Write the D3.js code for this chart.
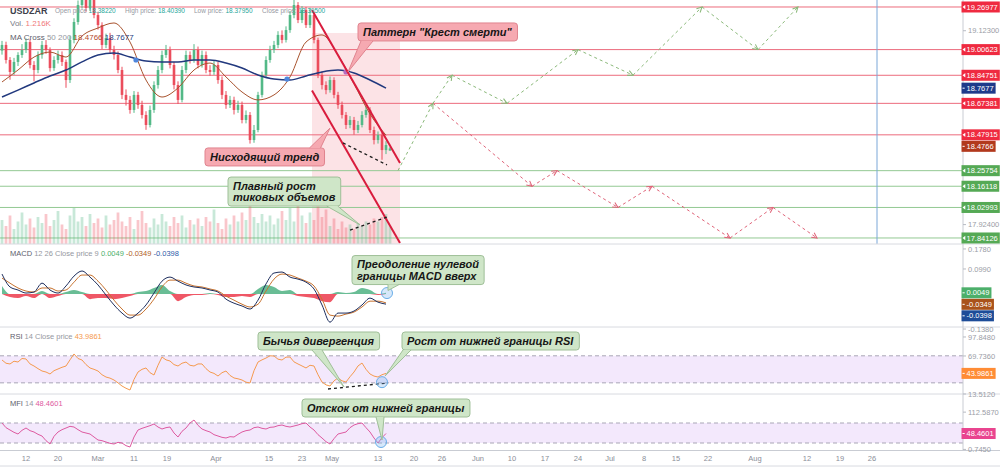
<!DOCTYPE html>
<html>
<head>
<meta charset="utf-8">
<title>USDZAR</title>
<script src="https://cdn.jsdelivr.net/npm/d3@7"></script>
<style>
  html, body { margin: 0; padding: 0; background: #fff; }
  svg { display: block; font-family: "Liberation Sans", Arial, sans-serif; }
</style>
</head>
<body>
<div id="chart"></div>
<script>
// Candles (one per bar)
const opens = [19.000, 19.035, 18.942, 18.868, 18.930, 18.973, 19.004, 19.053, 18.911, 18.880,
  18.973, 19.035, 19.004, 18.892, 18.942, 18.973, 18.930, 18.818, 19.066, 19.177,
  19.282, 19.344, 19.264, 19.375, 19.220, 19.158, 19.035, 19.078, 19.004, 18.973,
  18.880, 18.726, 18.695, 18.633, 18.726, 18.664, 18.602, 18.540, 18.633, 18.787,
  18.880, 18.973, 19.004, 18.911, 18.787, 18.695, 18.880, 18.973, 18.942, 19.004,
  18.911, 18.973, 18.880, 18.868, 18.911, 18.818, 18.726, 18.664, 18.695, 18.633,
  18.664, 18.571, 18.602, 18.447, 18.509, 18.726, 18.849, 18.942, 19.004, 19.035,
  19.097, 19.066, 19.127, 19.220, 19.282, 19.189, 19.251, 19.158, 19.220, 19.066,
  18.849, 18.787, 18.756, 18.818, 18.726, 18.664, 18.602, 18.540, 18.571, 18.509,
  18.540, 18.602, 18.633, 18.509, 18.447, 18.478, 18.385, 18.3822]
const highs = [19.060, 19.055, 18.960, 18.955, 18.990, 19.040, 19.075, 19.070, 18.935, 18.995,
  19.060, 19.065, 19.020, 18.965, 19.000, 18.995, 18.945, 19.090, 19.200, 19.310,
  19.380, 19.370, 19.400, 19.390, 19.240, 19.175, 19.105, 19.110, 19.030, 18.995,
  18.900, 18.760, 18.720, 18.750, 18.745, 18.690, 18.625, 18.660, 18.810, 18.905,
  19.000, 19.035, 19.025, 18.930, 18.810, 18.905, 19.000, 18.995, 19.040, 19.025,
  19.000, 18.995, 18.910, 18.935, 18.930, 18.840, 18.750, 18.720, 18.715, 18.690,
  18.685, 18.630, 18.620, 18.540, 18.745, 18.870, 18.965, 19.030, 19.060, 19.120,
  19.125, 19.150, 19.245, 19.320, 19.300, 19.275, 19.270, 19.265, 19.240, 19.080,
  18.870, 18.810, 18.840, 18.835, 18.745, 18.685, 18.620, 18.595, 18.590, 18.565,
  18.625, 18.660, 18.650, 18.530, 18.500, 18.495, 18.440, 18.4039]
const lows = [18.975, 18.920, 18.820, 18.850, 18.905, 18.955, 18.985, 18.890, 18.810, 18.860,
  18.950, 18.980, 18.870, 18.875, 18.920, 18.905, 18.770, 18.800, 19.045, 19.160,
  19.260, 19.240, 19.245, 19.200, 19.130, 19.010, 19.015, 18.985, 18.945, 18.860,
  18.700, 18.660, 18.610, 18.615, 18.640, 18.580, 18.510, 18.525, 18.615, 18.765,
  18.860, 18.955, 18.890, 18.760, 18.670, 18.680, 18.860, 18.920, 18.925, 18.890,
  18.895, 18.860, 18.845, 18.850, 18.795, 18.700, 18.640, 18.645, 18.605, 18.615,
  18.550, 18.550, 18.425, 18.430, 18.495, 18.710, 18.830, 18.925, 18.985, 19.015,
  19.045, 19.050, 19.110, 19.200, 19.170, 19.170, 19.140, 19.140, 19.045, 18.830,
  18.760, 18.730, 18.740, 18.705, 18.640, 18.580, 18.515, 18.520, 18.480, 18.490,
  18.525, 18.585, 18.490, 18.420, 18.425, 18.325, 18.360, 18.3795]
const closes = [19.035, 18.942, 18.868, 18.930, 18.973, 19.004, 19.053, 18.911, 18.880, 18.973,
  19.035, 19.004, 18.892, 18.942, 18.973, 18.930, 18.818, 19.066, 19.177, 19.282,
  19.344, 19.264, 19.375, 19.220, 19.158, 19.035, 19.078, 19.004, 18.973, 18.880,
  18.726, 18.695, 18.633, 18.726, 18.664, 18.602, 18.540, 18.633, 18.787, 18.880,
  18.973, 19.004, 18.911, 18.787, 18.695, 18.880, 18.973, 18.942, 19.004, 18.911,
  18.973, 18.880, 18.868, 18.911, 18.818, 18.726, 18.664, 18.695, 18.633, 18.664,
  18.571, 18.602, 18.447, 18.509, 18.726, 18.849, 18.942, 19.004, 19.035, 19.097,
  19.066, 19.127, 19.220, 19.282, 19.189, 19.251, 19.158, 19.220, 19.066, 18.849,
  18.787, 18.756, 18.818, 18.726, 18.664, 18.602, 18.540, 18.571, 18.509, 18.540,
  18.602, 18.633, 18.509, 18.447, 18.478, 18.385, 18.416, 18.395]
// tick volume, thousands
const volumes = [1.6, 1.2, 1.9, 1.0, 1.5, 2.1, 1.3, 1.7, 1.1, 1.8,
  1.4, 2.0, 1.2, 1.6, 2.2, 1.3, 1.0, 1.9, 2.4, 1.5,
  1.8, 1.2, 2.0, 1.4, 1.7, 1.1, 1.9, 1.3, 1.6, 2.1,
  1.5, 1.2, 1.8, 1.0, 1.6, 2.2, 1.4, 1.1, 1.7, 1.3,
  2.0, 1.5, 1.2, 1.8, 1.4, 1.9, 1.1, 1.6, 1.3, 1.7,
  1.2, 1.8, 1.5, 2.3, 1.4, 1.0, 1.7, 1.3, 1.9, 1.5,
  2.1, 1.6, 2.6, 1.8, 1.4, 2.0, 1.5, 1.9, 1.3, 1.7,
  2.2, 1.6, 2.4, 1.5, 2.8, 1.9, 1.4, 2.1, 1.6, 2.5,
  1.8, 2.3, 1.2, 1.7, 1.0, 1.5, 1.1, 1.3, 1.0, 1.4,
  1.2, 1.5, 1.3, 1.7, 1.5, 1.8, 2.0, 1.216]

// moving averages, one value every 4 bars
const ma50 = [18.806, 18.880, 18.960, 18.991, 18.960, 19.090, 19.140, 19.171, 19.053, 18.818,
  18.713, 18.769, 18.880, 18.923, 18.837, 18.744, 18.695, 18.726, 18.837, 19.053,
  19.097, 18.973, 18.794, 18.608, 18.4766]
const ma200 = [18.713, 18.756, 18.800, 18.843, 18.880, 18.930, 18.973, 18.985, 18.960, 18.936,
  18.930, 18.930, 18.942, 18.942, 18.923, 18.892, 18.849, 18.824, 18.818, 18.843,
  18.868, 18.880, 18.862, 18.818, 18.7677]
const crossBars = [34, 71.75, 86.5]
const crossPrices = [18.942, 18.824, 18.868]
const crossKinds = ["cross", "cross", "death"]

// horizontal levels
const resistance = [19.26977, 19.00623, 18.84751, 18.67381, 18.47915]
const support = [18.25754, 18.16118, 18.02993, 17.84126]

// drawings
const channelBars = [78, 100]
const channelUpper = [19.251, 18.305]
const channelLower = [18.753, 17.810]
const zoneBars = [78, 100]
const zoneTop = 19.109
const lowsTrendBars = [85.75, 96.75]
const lowsTrendPrices = [18.429, 18.293]
const volTrendBars = [87.5, 96.75]
const volTrendValues = [0.93, 1.8]
const rsiTrendBars = [82, 97]
const rsiTrendValues = [20.9, 29.8]
const bullBars = [99.5, 108.25, 113, 126.75, 144.5, 158.25, 175.5, 189.5, 199.5]
const bullPrices = [18.258, 18.674, 18.848, 18.674, 19.006, 18.848, 19.270, 19.006, 19.270]
const bearBars = [108.25, 133, 139.25, 154.5, 163, 182.5, 193.25, 204.25]
const bearPrices = [18.674, 18.161, 18.258, 18.030, 18.161, 17.841, 18.030, 17.841]
const markerBar = 219.25

// MACD 12 26 9, one value every 2 bars
const macdLine = [0.079, 0.028, 0.016, 0.004, 0.008, 0.043, 0.016, 0.004, 0.032, 0.071,
  0.091, 0.067, 0.036, -0.004, -0.043, -0.075, -0.095, -0.075, -0.043, 0.004,
  0.051, 0.067, 0.051, 0.036, 0.028, 0.024, 0.016, 0.008, -0.020, -0.036,
  -0.047, -0.059, -0.024, 0.040, 0.083, 0.087, 0.067, 0.059, 0.047, 0.020,
  -0.043, -0.111, -0.075, -0.075, -0.067, -0.043, -0.016, -0.032, -0.0398]
const signalLine = [0.063, 0.043, 0.024, 0.012, 0.008, 0.024, 0.024, 0.012, 0.016, 0.047,
  0.075, 0.075, 0.051, 0.016, -0.024, -0.059, -0.083, -0.083, -0.059, -0.020,
  0.028, 0.055, 0.055, 0.043, 0.032, 0.028, 0.020, 0.012, -0.008, -0.024,
  -0.040, -0.051, -0.040, 0.012, 0.059, 0.079, 0.075, 0.063, 0.051, 0.032,
  -0.020, -0.083, -0.087, -0.079, -0.071, -0.051, -0.028, -0.028, -0.0349]
const macdHist = [0.032, -0.012, -0.016, -0.008, -0.016, 0.012, -0.016, -0.008, 0.008, 0.016,
  0.008, -0.020, -0.016, -0.016, -0.020, -0.016, -0.008, 0.008, 0.012, 0.024,
  0.036, 0.012, -0.028, -0.012, -0.004, -0.004, 0.004, -0.004, -0.012, -0.012,
  -0.008, -0.012, 0.020, 0.036, 0.028, 0.012, 0.016, -0.008, -0.012, -0.016,
  -0.028, -0.032, 0.008, 0.004, 0.008, 0.024, 0.016, -0.004, 0.0049]

// RSI 14 and MFI 14, one value per bar
const rsi = [63.8, 59, 57.9, 62, 60.8, 66, 65.3, 58, 54.9, 51,
  47.5, 46, 43.1, 48, 50.5, 53, 54.9, 64, 72.7, 66,
  63.8, 57, 52.0, 50, 47.5, 42, 38.6, 37, 34.2, 30,
  25.3, 22, 19.4, 35, 46.0, 50, 52.0, 45, 41.6, 56,
  68.2, 64, 62.3, 57, 54.9, 59, 60.8, 56, 54.9, 58,
  57.9, 51, 46.0, 44, 40.1, 45, 47.5, 41, 37.2, 36,
  34.2, 31, 29.8, 48, 60.8, 64, 66.7, 70, 69.7, 65,
  63.8, 68, 68.2, 61, 57.9, 55, 52.0, 56, 54.9, 42,
  31.2, 27, 25.3, 33, 37.2, 33, 31.2, 39, 46.0, 55,
  59.3, 50, 43.1, 40, 38.6, 42, 43.9861]
const mfi = [80, 66, 59, 52, 47, 58, 65, 57, 53, 46,
  41, 27, 17, 40, 53, 60, 65, 70, 68, 60,
  53, 50, 47, 38, 29, 27, 23, 19, 17, 22,
  20, 12, 8, 38, 59, 64, 68, 72, 77, 68,
  62, 66, 68, 50, 38, 55, 65, 80, 89, 73,
  62, 57, 53, 45, 41, 37, 35, 39, 38, 46,
  53, 57, 59, 66, 68, 64, 62, 67, 68, 72,
  74, 70, 68, 71, 74, 78, 80, 68, 59, 45,
  35, 24, 17, 33, 47, 50, 53, 66, 74, 78,
  80, 66, 53, 35, 20, 36, 48.4601]
const circleBars = [96.75, 95.5, 95.25]
const circleValues = [0.004, 31, 23]

// axis ticks
const priceTicks = [19.123, 18.8232, 18.5235, 18.2237, 17.924]
const macdTicks = [0.178, 0.099, 0.020, -0.059, -0.138]
const rsiTicks = [97.848, 69.736, 41.624, 13.512]
const mfiTicks = [112.587, 56.666, 0.745]
const timeTickBars = [6.5, 14.5, 24.5, 33.5, 41.75, 54, 67.25, 75.5, 83, 94.5, 103.5, 110.5,
  119.5, 128, 136.25, 144.5, 152.5, 161, 169, 177, 188.75, 201.75, 210, 218]
const timeTickLabels = ["12", "20", "Mar", "11", "19", "Apr", "15", "23", "May", "13", "20", "26",
  "Jun", "10", "17", "24", "Jul", "8", "15", "22", "Aug", "12", "19", "26"]

const W = 1000, H = 467
const plotRight = 963
const green = "#53b987", red = "#eb4d5c"

const x = d3.scaleLinear().domain([0, 240.75]).range([0, plotRight])
const yPrice = d3.scaleLinear().domain([17.804, 19.313]).range([244, 0])
const yVol = d3.scaleLinear().domain([0, 3]).range([244, 199])
const yMacd = d3.scaleLinear().domain([-0.130, 0.1976]).range([327, 244])
const yRsi = d3.scaleLinear().domain([13.5, 112.6]).range([394, 327])
const yMfi = d3.scaleLinear().domain([-1, 167]).range([450, 394])
const scales = {main: yPrice, macd: yMacd, rsi: yRsi, mfi: yMfi}

const svg = d3.select("#chart").append("svg")
  .attr("width", W).attr("height", H)
  .attr("viewBox", [0, 0, W, H])
svg.append("rect").attr("width", W).attr("height", H).attr("fill", "#fff")

const defs = svg.append("defs")
Object.entries(scales).forEach(([key, s]) => {
  const [y1, y0] = s.range()
  defs.append("clipPath").attr("id", `clip-${key}`).append("rect")
    .attr("x", 0).attr("y", y0).attr("width", plotRight).attr("height", y1 - y0)
})
;[["bull", "#8bb97a"], ["bear", "#e0657a"]].forEach(([id, color]) => {
  defs.append("marker").attr("id", `arrow-${id}`)
    .attr("viewBox", "0 0 8 8").attr("refX", 7).attr("refY", 4)
    .attr("markerWidth", 7).attr("markerHeight", 7)
    .attr("markerUnits", "userSpaceOnUse").attr("orient", "auto")
    .append("path").attr("d", "M1,1L7,4L1,7")
    .attr("fill", "none").attr("stroke", color).attr("stroke-width", 1.2)
})

// ---------- main price panel ----------
const gMain = svg.append("g").attr("clip-path", "url(#clip-main)")

gMain.append("rect")
  .attr("x", x(zoneBars[0])).attr("width", x(zoneBars[1]) - x(zoneBars[0]))
  .attr("y", yPrice(zoneTop)).attr("height", yPrice.range()[0] - yPrice(zoneTop))
  .attr("fill", "#fce3e6")

gMain.append("g").selectAll("line")
  .data([...resistance.map(v => ({v, c: "#ec6b7c"})), ...support.map(v => ({v, c: "#93c993"}))])
  .join("line")
  .attr("x1", 0).attr("x2", plotRight)
  .attr("y1", d => yPrice(d.v)).attr("y2", d => yPrice(d.v))
  .attr("stroke", d => d.c).attr("stroke-width", 1)

gMain.append("line")
  .attr("x1", x(markerBar)).attr("x2", x(markerBar))
  .attr("y1", 0).attr("y2", yPrice.range()[0])
  .attr("stroke", "#7aa7d8").attr("stroke-width", 1)

const bars = closes.map((c, i) => ({i, o: opens[i], h: highs[i], l: lows[i], c, v: volumes[i]}))
const barW = x(1) - x(0)

gMain.append("g").selectAll("rect")
  .data(bars)
  .join("rect")
  .attr("x", d => x(d.i) + 0.6)
  .attr("width", barW - 1.2)
  .attr("y", d => yVol(d.v))
  .attr("height", d => yVol(0) - yVol(d.v))
  .attr("fill", d => d.c >= d.o ? green : red)
  .attr("opacity", 0.32)

const candle = gMain.append("g").selectAll("g")
  .data(bars)
  .join("g")
  .attr("fill", d => d.c >= d.o ? green : red)
  .attr("stroke", d => d.c >= d.o ? green : red)
candle.append("line")
  .attr("x1", d => x(d.i + 0.5)).attr("x2", d => x(d.i + 0.5))
  .attr("y1", d => yPrice(d.h)).attr("y2", d => yPrice(d.l))
  .attr("stroke-width", 1)
candle.append("rect")
  .attr("x", d => x(d.i) + 0.7)
  .attr("width", barW - 1.4)
  .attr("y", d => yPrice(Math.max(d.o, d.c)))
  .attr("height", d => Math.max(1, Math.abs(yPrice(d.o) - yPrice(d.c))))
  .attr("stroke", "none")

const maLine = d3.line()
  .x((d, k) => x(k * 4 + 0.5))
  .y(d => yPrice(d))
  .curve(d3.curveMonotoneX)
gMain.append("path").datum(ma200).attr("d", maLine)
  .attr("fill", "none").attr("stroke", "#22397e").attr("stroke-width", 1.5)
gMain.append("path").datum(ma50).attr("d", maLine)
  .attr("fill", "none").attr("stroke", "#a9542f").attr("stroke-width", 1)
gMain.append("g").selectAll("circle")
  .data(crossBars.map((b, k) => ({b, p: crossPrices[k], kind: crossKinds[k]})))
  .join("circle")
  .attr("cx", d => x(d.b)).attr("cy", d => yPrice(d.p)).attr("r", 2.6)
  .attr("fill", d => d.kind === "death" ? "#b56cc0" : "#4f86dc")

gMain.append("g").selectAll("line")
  .data([channelUpper, channelLower])
  .join("line")
  .attr("x1", x(channelBars[0])).attr("x2", x(channelBars[1]))
  .attr("y1", d => yPrice(d[0])).attr("y2", d => yPrice(d[1]))
  .attr("stroke", "#d91c3d").attr("stroke-width", 2)

const dashed = (g, bx, ys, vals) => g.append("line")
  .attr("x1", x(bx[0])).attr("x2", x(bx[1]))
  .attr("y1", ys(vals[0])).attr("y2", ys(vals[1]))
  .attr("stroke", "#1b1b1b").attr("stroke-width", 1.3).attr("stroke-dasharray", "3,3")
dashed(gMain, lowsTrendBars, yPrice, lowsTrendPrices)
dashed(gMain, volTrendBars, yVol, volTrendValues)

function projection(barsArr, prices, id, color) {
  const pts = barsArr.map((b, k) => [x(b), yPrice(prices[k])])
  gMain.append("g").selectAll("line")
    .data(d3.pairs(pts))
    .join("line")
    .attr("x1", d => d[0][0]).attr("y1", d => d[0][1])
    .attr("x2", d => d[1][0]).attr("y2", d => d[1][1])
    .attr("stroke", color).attr("stroke-width", 1)
    .attr("stroke-dasharray", "3,3")
    .attr("marker-end", `url(#arrow-${id})`)
}
projection(bearBars, bearPrices, "bear", "#e0657a")
projection(bullBars, bullPrices, "bull", "#8bb97a")

// ---------- MACD ----------
const gMacd = svg.append("g").attr("clip-path", "url(#clip-macd)")
const histArea = d3.area().x((d, k) => x(k * 2 + 0.5)).y0(yMacd(0)).curve(d3.curveMonotoneX)
gMacd.append("path").datum(macdHist)
  .attr("d", histArea.y1(d => yMacd(Math.max(d, 0))))
  .attr("fill", "#4fb283").attr("opacity", 0.85)
gMacd.append("path").datum(macdHist)
  .attr("d", histArea.y1(d => yMacd(Math.min(d, 0))))
  .attr("fill", "#ef5766")
const macdPath = d3.line().x((d, k) => x(k * 2 + 0.5)).y(d => yMacd(d)).curve(d3.curveMonotoneX)
gMacd.append("path").datum(signalLine).attr("d", macdPath)
  .attr("fill", "none").attr("stroke", "#c8732f").attr("stroke-width", 1)
gMacd.append("path").datum(macdLine).attr("d", macdPath)
  .attr("fill", "none").attr("stroke", "#1f2f5e").attr("stroke-width", 1)

// ---------- RSI / MFI ----------
function oscillator(key, values, ys, band, color) {
  const g = svg.append("g").attr("clip-path", `url(#clip-${key})`)
  g.append("rect")
    .attr("x", 0).attr("width", plotRight)
    .attr("y", ys(band[1])).attr("height", ys(band[0]) - ys(band[1]))
    .attr("fill", "#f3e8fc")
  g.selectAll("line.band").data(band).join("line")
    .attr("class", "band")
    .attr("x1", 0).attr("x2", plotRight)
    .attr("y1", d => ys(d)).attr("y2", d => ys(d))
    .attr("stroke", "#a9a6b6").attr("stroke-dasharray", "4,3")
  g.append("path").datum(values)
    .attr("d", d3.line().x((d, k) => x(k + 0.5)).y(d => ys(d)))
    .attr("fill", "none").attr("stroke", color).attr("stroke-width", 1)
  return g
}
const gRsi = oscillator("rsi", rsi, yRsi, [30, 70], "#f59a4f")
dashed(gRsi, rsiTrendBars, yRsi, rsiTrendValues)
oscillator("mfi", mfi, yMfi, [20, 80], "#de5aa0")

svg.append("g").selectAll("circle")
  .data(circleBars.map((b, k) => ({b, v: circleValues[k], s: [yMacd, yRsi, yMfi][k]})))
  .join("circle")
  .attr("cx", d => x(d.b)).attr("cy", d => d.s(d.v)).attr("r", 5.5)
  .attr("fill", "rgba(120,180,240,0.3)").attr("stroke", "#6aaee8").attr("stroke-width", 1)

// ---------- frame, axes ----------
svg.append("g").selectAll("line")
  .data([244, 327, 394])
  .join("line")
  .attr("x1", 0).attr("x2", W).attr("y1", d => d).attr("y2", d => d)
  .attr("stroke", "#d8dae0")
svg.append("line").attr("x1", 0).attr("x2", W).attr("y1", 450.5).attr("y2", 450.5).attr("stroke", "#c9ccd3")
svg.append("line").attr("x1", 0).attr("x2", W).attr("y1", 466).attr("y2", 466).attr("stroke", "#d8dae0")
svg.append("line").attr("x1", plotRight).attr("x2", plotRight).attr("y1", 0).attr("y2", 450)
  .attr("stroke", "#c9ccd3")

svg.append("g").selectAll("text")
  .data(timeTickBars.map((b, k) => ({b, t: timeTickLabels[k]})))
  .join("text")
  .attr("x", d => x(d.b)).attr("y", 461)
  .attr("text-anchor", "middle").attr("font-size", 7.5).attr("fill", "#8a8e98")
  .text(d => d.t)

// value marks on the price scale, stacked so they do not overlap
function placeMarks(marks, ys) {
  const placed = marks.map(m => ({...m, y: ys(m.value)})).sort((a, b) => a.y - b.y)
  for (let k = 1; k < placed.length; k++) placed[k].y = Math.max(placed[k].y, placed[k - 1].y + 11.5)
  return placed
}

// grey scale ticks; the ones covered by a coloured mark are left out
function ticks(values, ys, digits, placed) {
  const free = values.filter(v => placed.every(m => Math.abs(ys(v) - m.y) > 7.5))
  const g = svg.append("g").selectAll("g").data(free).join("g")
    .attr("transform", d => `translate(${plotRight},${ys(d)})`)
  g.append("line").attr("x1", 0).attr("x2", 3).attr("stroke", "#b8bbc3")
  g.append("text").attr("x", 5).attr("dy", "0.35em")
    .attr("font-size", 7.5).attr("fill", "#9a9da6")
    .text(d => d.toFixed(digits))
}

function drawMarks(placed) {
  const g = svg.append("g").selectAll("g").data(placed).join("g")
    .attr("transform", d => `translate(${plotRight - 1.5},${d.y})`)
  const rect = g.append("rect").attr("y", -5.5).attr("height", 11).attr("fill", d => d.fill)
  g.filter(d => d.level).append("path").attr("d", "M1,0L3.8,-2.2L3.8,2.2Z").attr("fill", "#fff")
  g.filter(d => !d.level).append("line").attr("x1", 1).attr("x2", 3.2).attr("stroke", "#fff")
  const text = g.append("text").attr("x", 5).attr("dy", "0.35em")
    .attr("font-size", 7.5).attr("fill", "#fff").text(d => d.text)
  rect.attr("width", (d, k) => text.nodes()[k].getComputedTextLength() + 7)
}

const priceMarks = placeMarks([
  ...resistance.map(v => ({value: v, text: v.toFixed(5), fill: "#ef2a40", level: true})),
  ...support.map(v => ({value: v, text: v.toFixed(5), fill: "#55a955", level: true})),
  {value: ma200[ma200.length - 1], text: ma200[ma200.length - 1].toFixed(4), fill: "#1e3a8a"},
  {value: ma50[ma50.length - 1], text: ma50[ma50.length - 1].toFixed(4), fill: "#b2391d"},
], yPrice)
const macdMarks = placeMarks([
  {value: macdHist[macdHist.length - 1], text: macdHist[macdHist.length - 1].toFixed(4), fill: "#4caf6a"},
  {value: signalLine[signalLine.length - 1], text: signalLine[signalLine.length - 1].toFixed(4), fill: "#a9521a"},
  {value: macdLine[macdLine.length - 1], text: macdLine[macdLine.length - 1].toFixed(4), fill: "#1d4c98"},
], yMacd)
const rsiMarks = placeMarks([{value: rsi[rsi.length - 1], text: rsi[rsi.length - 1].toFixed(4), fill: "#ff8c35"}], yRsi)
const mfiMarks = placeMarks([{value: mfi[mfi.length - 1], text: mfi[mfi.length - 1].toFixed(4), fill: "#e9448f"}], yMfi)

ticks(priceTicks, yPrice, 5, priceMarks)
ticks(macdTicks, yMacd, 4, macdMarks)
ticks(rsiTicks, yRsi, 4, rsiMarks)
ticks(mfiTicks, yMfi, 4, mfiMarks)
;[priceMarks, macdMarks, rsiMarks, mfiMarks].forEach(drawMarks)

// ---------- legends ----------
function legend(xPos, yPos, size, parts) {
  const t = svg.append("text").attr("x", xPos).attr("y", yPos).attr("font-size", size)
  parts.forEach(([s, c, w]) => t.append("tspan").attr("fill", c).attr("font-weight", w || null).text(s))
}
const grey = "#9598a1", teal = "#26a69a"
legend(10, 13.5, 9, [["USDZAR", "#3d404b", 600]])
legend(55, 12.5, 6.5, [["Open price ", grey], ["18.38220", teal]])
legend(125, 12.5, 6.5, [["High price: ", grey], ["18.40390", teal]])
legend(194, 12.5, 6.5, [["Low price: ", grey], ["18.37950", teal]])
legend(262, 12.5, 6.5, [["Close price: ", grey], ["18.39500", teal]])
legend(10, 25.5, 8, [["Vol. ", "#787b86"], [" 1.216K", "#f0787a"]])
legend(10, 40, 8, [["MA Cross ", "#5d606b"], ["50 200 ", grey],
  [ma50[ma50.length - 1].toFixed(4) + " ", "#b4492b"], [ma200[ma200.length - 1].toFixed(4), "#1f3a80"]])
legend(10, 256, 7.5, [["MACD ", "#5d606b"], ["12 26 Close price 9 ", grey],
  [macdHist[macdHist.length - 1].toFixed(4) + " ", "#4caf6a"],
  [signalLine[signalLine.length - 1].toFixed(4) + " ", "#b0601f"],
  [macdLine[macdLine.length - 1].toFixed(4), "#2d5aa8"]])
legend(10, 339, 7.5, [["RSI ", "#5d606b"], ["14 Close price ", grey], [rsi[rsi.length - 1].toFixed(4), "#f59a4f"]])
legend(10, 406, 7.5, [["MFI ", "#5d606b"], ["14 ", grey], [mfi[mfi.length - 1].toFixed(4), "#de5aa0"]])

// ---------- callouts ----------
const themes = {
  red: {fill: "#f6a9b1", stroke: "#e0848f"},
  green: {fill: "#cfe6c8", stroke: "#9fbf98"},
}
const callouts = [
  {lines: ['Паттерн "Крест смерти"'], panel: "main", bar: 89.5, value: 19.171, tipBar: 87, tipValue: 18.868, side: "bottom", base: [3, 15], theme: "red"},
  {lines: ["Нисходящий тренд"], panel: "main", bar: 51.25, value: 18.398, tipBar: 82.5, tipValue: 18.521, side: "top", base: [-15, -4], theme: "red"},
  {lines: ["Плавный рост", "тиковых объемов"], panel: "main", bar: 57, value: 18.218, tipBar: 90, tipValue: 17.922, side: "bottom", base: [-14, -3], theme: "green"},
  {lines: ["Преодоление нулевой", "границы MACD вверх"], panel: "macd", bar: 88, value: 0.152, tipBar: 97, tipValue: 0.014, side: "bottom", base: [36, 47], theme: "green"},
  {lines: ["Бычья дивергенция"], panel: "rsi", bar: 64.5, value: 105.2, tipBar: 86, tipValue: 24, side: "bottom", base: [54, 64], theme: "green"},
  {lines: ["Рост от нижней границы RSI"], panel: "rsi", bar: 100.5, value: 105.2, tipBar: 96.25, tipValue: 40, side: "bottom", base: [1, 9], theme: "green"},
  {lines: ["Отскок от нижней границы"], panel: "mfi", bar: 75.5, value: 152, tipBar: 95.5, tipValue: 29, side: "bottom", base: [74, 82], theme: "green"},
]

callouts.forEach(c => {
  const ys = scales[c.panel]
  const theme = themes[c.theme]
  const left = x(c.bar), top = ys(c.value)
  const h = 7 + 11 * c.lines.length
  const g = svg.append("g")
  const text = g.append("text")
    .attr("font-size", 11).attr("font-weight", "bold").attr("font-style", "italic")
    .attr("fill", "#161616")
  c.lines.forEach((line, k) => text.append("tspan")
    .attr("x", left + 5).attr("y", top + 12.8 + k * 11.5).text(line))
  const w = text.node().getBBox().width + 10
  g.insert("rect", "text")
    .attr("x", left).attr("y", top).attr("width", w).attr("height", h).attr("rx", 3)
    .attr("fill", theme.fill).attr("stroke", theme.stroke)
  const by = c.side === "bottom" ? top + h : top
  const bx = c.base.map(o => o < 0 ? left + w + o : left + o)
  const tip = [x(c.tipBar), ys(c.tipValue)]
  g.insert("path", "text")
    .attr("d", `M${bx[0]},${by}L${tip[0]},${tip[1]}L${bx[1]},${by}Z`)
    .attr("fill", theme.fill)
  g.insert("path", "text")
    .attr("d", `M${bx[0]},${by}L${tip[0]},${tip[1]}L${bx[1]},${by}`)
    .attr("fill", "none").attr("stroke", theme.stroke)
})
</script>
</body>
</html>
